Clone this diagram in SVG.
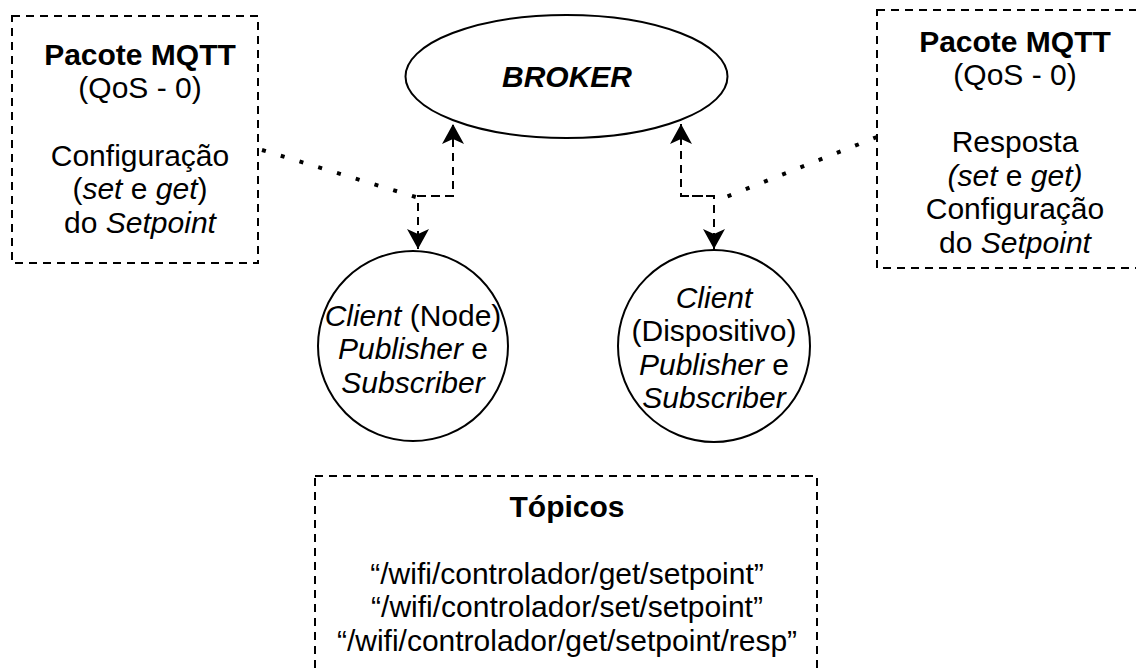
<svg xmlns="http://www.w3.org/2000/svg" width="1136" height="668" viewBox="0 0 1136 668">
<style>
text{font-family:"Liberation Sans",Arial,sans-serif;font-size:30px;fill:#000;text-anchor:middle}
.b{font-weight:bold}
.i{font-style:italic}
.box{fill:none;stroke:#000;stroke-width:2;stroke-dasharray:8 6}
.shape{fill:#fff;stroke:#000;stroke-width:2}
.dash{fill:none;stroke:#000;stroke-width:2;stroke-dasharray:8 6}
.dot{fill:none;stroke:#000;stroke-width:4;stroke-dasharray:4 15.6}
</style>
<defs>
<marker id="arr" viewBox="0 0 22 22" markerWidth="22" markerHeight="22" refX="20" refY="11" orient="auto" markerUnits="userSpaceOnUse">
<path d="M20 11 L0 0 L5 11 L0 22 Z" fill="#000"/>
</marker>
</defs>
<rect width="1136" height="668" fill="#fff"/>
<g id="box-left">
<rect class="box" x="12" y="16" width="246" height="247"/>
<text x="140" y="65" class="b">Pacote MQTT</text>
<text x="140" y="98">(QoS - 0)</text>
<text x="140" y="166">Configuração</text>
<text x="140" y="199">(<tspan class="i">set</tspan> e <tspan class="i">get</tspan>)</text>
<text x="140" y="233">do <tspan class="i">Setpoint</tspan></text>
</g>
<g id="box-right">
<rect class="box" x="877" y="10" width="270" height="258"/>
<text x="1015" y="52" class="b">Pacote MQTT</text>
<text x="1015" y="85">(QoS - 0)</text>
<text x="1015" y="152">Resposta</text>
<text x="1015" y="186"><tspan class="i">(set</tspan> e <tspan class="i">get)</tspan></text>
<text x="1015" y="219">Configuração</text>
<text x="1015" y="253">do <tspan class="i">Setpoint</tspan></text>
</g>
<g id="box-topicos">
<rect class="box" x="315" y="476" width="502" height="210"/>
<text x="567" y="517" class="b">Tópicos</text>
<text x="567" y="584">“/wifi/controlador/get/setpoint”</text>
<text x="567" y="617">“/wifi/controlador/set/setpoint”</text>
<text x="567" y="651">“/wifi/controlador/get/setpoint/resp”</text>
</g>
<g id="broker">
<ellipse class="shape" cx="566.5" cy="76.5" rx="161" ry="61.5"/>
<text x="567" y="87" class="b i">BROKER</text>
</g>
<g id="client-node">
<circle class="shape" cx="413" cy="346" r="95"/>
<text x="413" y="326"><tspan class="i">Client</tspan> (Node)</text>
<text x="413" y="359"><tspan class="i">Publisher</tspan> e</text>
<text x="413" y="393" class="i">Subscriber</text>
</g>
<g id="client-dispositivo">
<circle class="shape" cx="714" cy="346" r="96"/>
<text x="714" y="308" class="i">Client</text>
<text x="714" y="341">(Dispositivo)</text>
<text x="714" y="375"><tspan class="i">Publisher</tspan> e</text>
<text x="714" y="408" class="i">Subscriber</text>
</g>
<g id="connectors">
<path class="dash" d="M418 196 H453 V124" marker-end="url(#arr)"/>
<path class="dash" d="M453 196 H418 V249" marker-end="url(#arr)"/>
<path class="dash" d="M714 196 H681 V124" marker-end="url(#arr)"/>
<path class="dash" d="M681 196 H714 V249" marker-end="url(#arr)"/>
<path class="dot" d="M262 150 L419 198"/>
<path class="dot" d="M877 137 L716 201"/>
</g>
</svg>
